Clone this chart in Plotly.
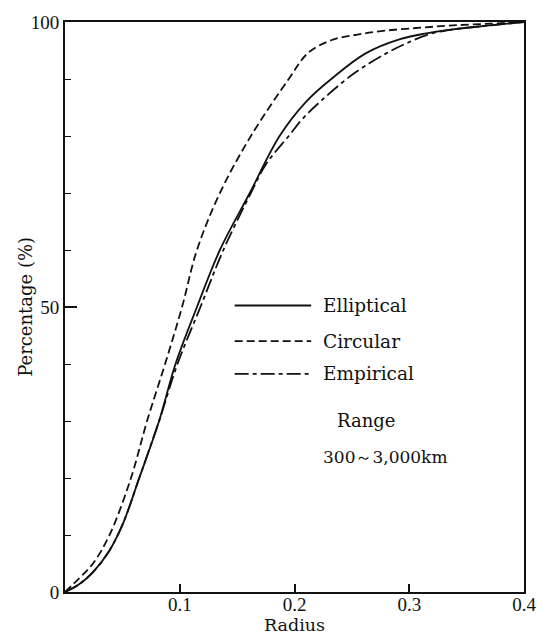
import plotly.graph_objects as go

# ---- data ----
circ_r = [0, 0.0128, 0.0244, 0.0388, 0.0575, 0.0715, 0.0872, 0.102, 0.115, 0.135, 0.162, 0.195, 0.212, 0.232, 0.255, 0.28, 0.31, 0.338, 0.37, 0.4]
circ_p = [0, 2.5, 5, 10, 20, 30, 40, 50, 60, 70, 80, 90, 94.6, 96.8, 97.8, 98.5, 99.0, 99.4, 99.7, 100]

ell_r = [0, 0.012, 0.024, 0.0385, 0.0505, 0.0647, 0.082, 0.0963, 0.115, 0.135, 0.161, 0.187, 0.21, 0.232, 0.262, 0.292, 0.315, 0.338, 0.37, 0.4]
ell_p = [0, 1.3, 3.4, 7.2, 12, 20, 30, 40, 50, 60, 70, 80, 86, 90, 94.5, 97.0, 98.0, 98.7, 99.4, 100]

emp_r = [0, 0.012, 0.024, 0.0385, 0.0505, 0.0647, 0.082, 0.098, 0.118, 0.138, 0.162, 0.175, 0.195, 0.207, 0.225, 0.252, 0.28, 0.298, 0.318, 0.338, 0.37, 0.4]
emp_p = [0, 1.3, 3.4, 7.2, 12, 20, 30, 40, 50, 60, 70, 75, 80, 83, 86.5, 91, 94.5, 96.3, 97.9, 98.7, 99.4, 100]

series_names = ["Elliptical", "Circular", "Empirical"]
x_ticks = [0.1, 0.2, 0.3, 0.4]
x_ticklabels = ["0.1", "0.2", "0.3", "0.4"]
y_ticks = [0, 50, 100]
y_ticklabels = ["0", "50", "100"]
x_title = "Radius"
y_title = "Percentage (%)"
note_lines = ["Range", "300～3,000km"]

WORD_FONT = "DejaVu Serif, Liberation Serif, serif"
NUM_FONT = "Liberation Serif, Times New Roman, serif"
INK = "#111111"
dashes = {"Elliptical": "solid", "Circular": "8px,4px", "Empirical": "14px,4px,4px,4px"}

fig = go.Figure()
for name, xs, ys in [("Elliptical", ell_r, ell_p), ("Circular", circ_r, circ_p), ("Empirical", emp_r, emp_p)]:
    fig.add_trace(go.Scatter(x=xs, y=ys, mode="lines", name=name,
                             line=dict(color=INK, width=1.8, dash=dashes[name], shape="spline", smoothing=1.0),
                             showlegend=False))

W, H = 548, 637
ML, MR, MT, MB = 65, 15, 17, 45
pw, ph = W - ML - MR, H - MT - MB

def px(xp):
    return (xp - ML) / pw

def py(yp):
    return (H - MB - yp) / ph

# manual legend
leg_y = [303, 339, 372]
for name, yy in zip(series_names, leg_y):
    fig.add_shape(type="line", xref="paper", yref="paper", x0=px(238), x1=px(316), y0=py(yy), y1=py(yy),
                  line=dict(color=INK, width=1.8, dash=dashes[name]))
    fig.add_annotation(text=name, xref="paper", yref="paper", x=px(326), y=py(yy), xanchor="left", yanchor="middle",
                       showarrow=False, font=dict(family=WORD_FONT, size=18.5, color=INK))

fig.add_annotation(text=note_lines[0], xref="paper", yref="paper", x=px(372), y=py(419), xanchor="center",
                   yanchor="middle", showarrow=False, font=dict(family=WORD_FONT, size=18, color=INK))
fig.add_annotation(text=note_lines[1], xref="paper", yref="paper", x=px(392), y=py(456), xanchor="center",
                   yanchor="middle", showarrow=False, font=dict(family=WORD_FONT, size=17, color=INK))

fig.add_annotation(text=x_title, xref="paper", yref="paper", x=0.5, y=py(637), xanchor="center", yanchor="bottom",
                   showarrow=False, font=dict(family=WORD_FONT, size=17.5, color=INK))
fig.add_annotation(text=y_title, xref="paper", yref="paper", x=px(24), y=0.5, xanchor="center", yanchor="middle",
                   textangle=-90, showarrow=False, font=dict(family=WORD_FONT, size=18, color=INK))

fig.update_xaxes(range=[0, 0.4], tickvals=x_ticks, ticktext=x_ticklabels, ticks="inside", ticklen=8, tickwidth=1.5,
                 tickcolor=INK, showline=True, linecolor=INK, linewidth=2, mirror=True, showgrid=False, zeroline=False,
                 ticklabelstandoff=-6,
                 tickfont=dict(family=NUM_FONT, size=19, color=INK))
fig.update_yaxes(range=[0, 100], tickvals=y_ticks, ticktext=y_ticklabels, ticks="inside", ticklen=12, tickwidth=1.5,
                 tickcolor=INK, showline=True, linecolor=INK, linewidth=2, mirror=True, showgrid=False, zeroline=False,
                 tickfont=dict(family=NUM_FONT, size=19, color=INK),
                 minor=dict(dtick=10, ticks="inside", ticklen=6, tickwidth=1.2, tickcolor=INK, showgrid=False))

fig.update_layout(width=W, height=H, margin=dict(l=ML, r=MR, t=MT, b=MB, pad=0), paper_bgcolor="white",
                  plot_bgcolor="white", showlegend=False)

fig.write_html("out.html", config={"displayModeBar": False},
               post_script="document.body.style.margin='0';document.body.style.overflow='hidden';")
